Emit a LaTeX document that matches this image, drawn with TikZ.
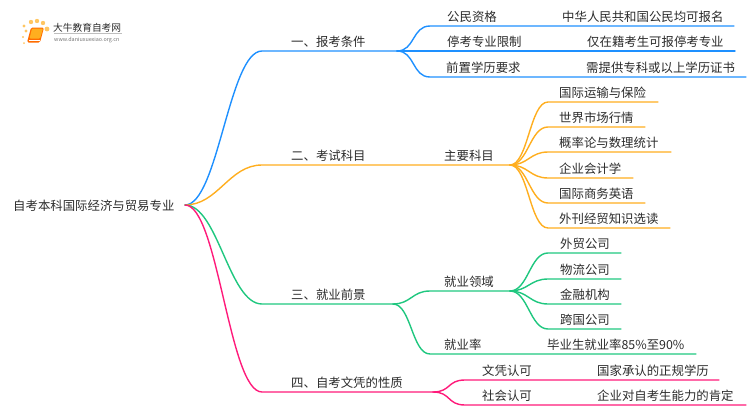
\documentclass[tikz,border=0pt]{standalone}
\usepackage{fontspec}
\setmainfont{Noto Sans CJK SC}
\usetikzlibrary{positioning}
\definecolor{bluec}{HTML}{1E90FF}
\definecolor{orangec}{HTML}{FFAE1F}
\definecolor{greenc}{HTML}{1FC77F}
\definecolor{pinkc}{HTML}{FF1A7A}
\definecolor{textc}{HTML}{2B2B2B}
\tikzset{
  lbl/.style={anchor=west,inner sep=0pt,yshift=-0.7pt,text=textc,font=\fontsize{12.4}{14}\selectfont},
  link/.style={line width=1.4pt,line cap=round},
  bend/.style={out=0,in=180,distance=#1},
  bend/.default=18pt
}
\begin{document}
\begin{tikzpicture}[x=1pt,y=-1pt]
    \useasboundingbox (0,0) rectangle (750,410);
    % logo
    \foreach \px/\py/\pr in {24/26/1.7,26/31/1.6,23/37/1.2,24/43/1.0,31/22/2.2,37/21/2.2,43/23/2.2,47/29/2.4}
      \fill[orangec!70] (\px,\py) circle (\pr);
    \fill[orange!85!red,rounded corners=1.5pt] (31,27.5) -- (44,27.5) -- (40,42.5) -- (27,42.5) -- cycle;
    \fill[orangec,rounded corners=1pt] (32,28.5) -- (43,28.5) -- (40,38.5) -- (29.5,38.5) -- cycle;
    \draw[white,line width=0.6pt] (29,40.5) -- (39.5,40.5);
    \draw[black!25,line width=0.6pt] (54,33) -- (122,33);
    \node[lbl,font=\fontsize{9.7}{11}\selectfont] (logot) at (53,27) {大牛教育自考网};
    \node[lbl,font=\fontsize{5.4}{6}\selectfont,text=black!55] (logou) at (54,39) {www.daniuxuexiao.org.cn};
    % root and main branches
    \node[lbl] (root) at (13,205.5) {自考本科国际经济与贸易专业};
    \coordinate (r) at (185,205);
    \coordinate (a0) at (262,51);  \coordinate (a) at (397,51);
    \coordinate (b0) at (262,165); \coordinate (b) at (510,165);
    \coordinate (c0) at (262,304); \coordinate (c) at (393,304);
    \coordinate (d0) at (262,392); \coordinate (d) at (433,392);
    \node[lbl] (at) at (291,41)  {一、报考条件};
    \node[lbl] (bt) at (291,155) {二、考试科目};
    \node[lbl] (ct) at (291,294) {三、就业前景};
    \node[lbl] (dt) at (291,382) {四、自考文凭的性质};
    % blue part
    \coordinate (a1) at (430,26); \coordinate (a1e) at (734,26);
    \coordinate (a2) at (430,51); \coordinate (a2e) at (735,51);
    \coordinate (a3) at (430,77); \coordinate (a3e) at (746,77);
    \node[lbl] (a1t) at (447,16) {公民资格};
    \node[lbl] (a2t) at (447,41) {停考专业限制};
    \node[lbl] (a3t) at (446,67) {前置学历要求};
    \node[lbl] (a1v) at (562,16) {中华人民共和国公民均可报名};
    \node[lbl] (a2v) at (587,41) {仅在籍考生可报停考专业};
    \node[lbl] (a3v) at (586,67) {需提供专科或以上学历证书};
    \draw[link,bluec] (r) to[bend=33pt] (a0) -- (a);
    \draw[link,bluec] (a) to[bend] (a1) -- (a1e);
    \draw[link,bluec] (a) -- (a2) -- (a2e);
    \draw[link,bluec] (a) to[bend] (a3) -- (a3e);
    % orange part
    \coordinate (b1) at (548,102); \coordinate (b1e) at (658,102);
    \coordinate (b2) at (548,127); \coordinate (b2e) at (645,127);
    \coordinate (b3) at (548,152); \coordinate (b3e) at (671,152);
    \coordinate (b4) at (548,178); \coordinate (b4e) at (633,178);
    \coordinate (b5) at (548,203); \coordinate (b5e) at (645,203);
    \coordinate (b6) at (548,228); \coordinate (b6e) at (670,228);
    \node[lbl] (bs) at (444,155) {主要科目};
    \node[lbl] (b1t) at (559,92)  {国际运输与保险};
    \node[lbl] (b2t) at (559,117) {世界市场行情};
    \node[lbl] (b3t) at (559,142) {概率论与数理统计};
    \node[lbl] (b4t) at (559,168) {企业会计学};
    \node[lbl] (b5t) at (559,193) {国际商务英语};
    \node[lbl] (b6t) at (559,218) {外刊经贸知识选读};
    \draw[link,orangec] (r) to[bend=33pt] (b0) -- (b);
    \draw[link,orangec] (b) to[bend] (b1) -- (b1e);
    \draw[link,orangec] (b) to[bend] (b2) -- (b2e);
    \draw[link,orangec] (b) to[bend] (b3) -- (b3e);
    \draw[link,orangec] (b) to[bend] (b4) -- (b4e);
    \draw[link,orangec] (b) to[bend] (b5) -- (b5e);
    \draw[link,orangec] (b) to[bend] (b6) -- (b6e);
    % green part
    \coordinate (cx) at (510,291);
    \coordinate (cl) at (430,291);
    \coordinate (cr) at (430,354); \coordinate (cre) at (696,354);
    \coordinate (c1) at (548,253); \coordinate (c1e) at (621,253);
    \coordinate (c2) at (548,279); \coordinate (c2e) at (621,279);
    \coordinate (c3) at (548,304); \coordinate (c3e) at (621,304);
    \coordinate (c4) at (548,329); \coordinate (c4e) at (621,329);
    \node[lbl] (cs) at (444,281) {就业领域};
    \node[lbl] (crt) at (444,344) {就业率};
    \node[lbl] (crv) at (547,344) {毕业生就业率85\%至90\%};
    \node[lbl] (c1t) at (560,243) {外贸公司};
    \node[lbl] (c2t) at (560,269) {物流公司};
    \node[lbl] (c3t) at (560,294) {金融机构};
    \node[lbl] (c4t) at (560,319) {跨国公司};
    \draw[link,greenc] (r) to[bend=33pt] (c0) -- (c);
    \draw[link,greenc] (c) to[bend] (cl) -- (cx);
    \draw[link,greenc] (c) to[bend] (cr) -- (cre);
    \draw[link,greenc] (cx) to[bend] (c1) -- (c1e);
    \draw[link,greenc] (cx) to[bend] (c2) -- (c2e);
    \draw[link,greenc] (cx) to[bend] (c3) -- (c3e);
    \draw[link,greenc] (cx) to[bend] (c4) -- (c4e);
    % pink part
    \coordinate (d1) at (465,380); \coordinate (d1e) at (719,380);
    \coordinate (d2) at (465,405); \coordinate (d2e) at (746,405);
    \node[lbl] (d1t) at (482,370) {文凭认可};
    \node[lbl] (d2t) at (482,395) {社会认可};
    \node[lbl] (d1v) at (597,370) {国家承认的正规学历};
    \node[lbl] (d2v) at (597,395) {企业对自考生能力的肯定};
    \draw[link,pinkc] (r) to[bend=33pt] (d0) -- (d);
    \draw[link,pinkc] (d) to[bend] (d1) -- (d1e);
    \draw[link,pinkc] (d) to[bend] (d2) -- (d2e);
\end{tikzpicture}
\end{document}
